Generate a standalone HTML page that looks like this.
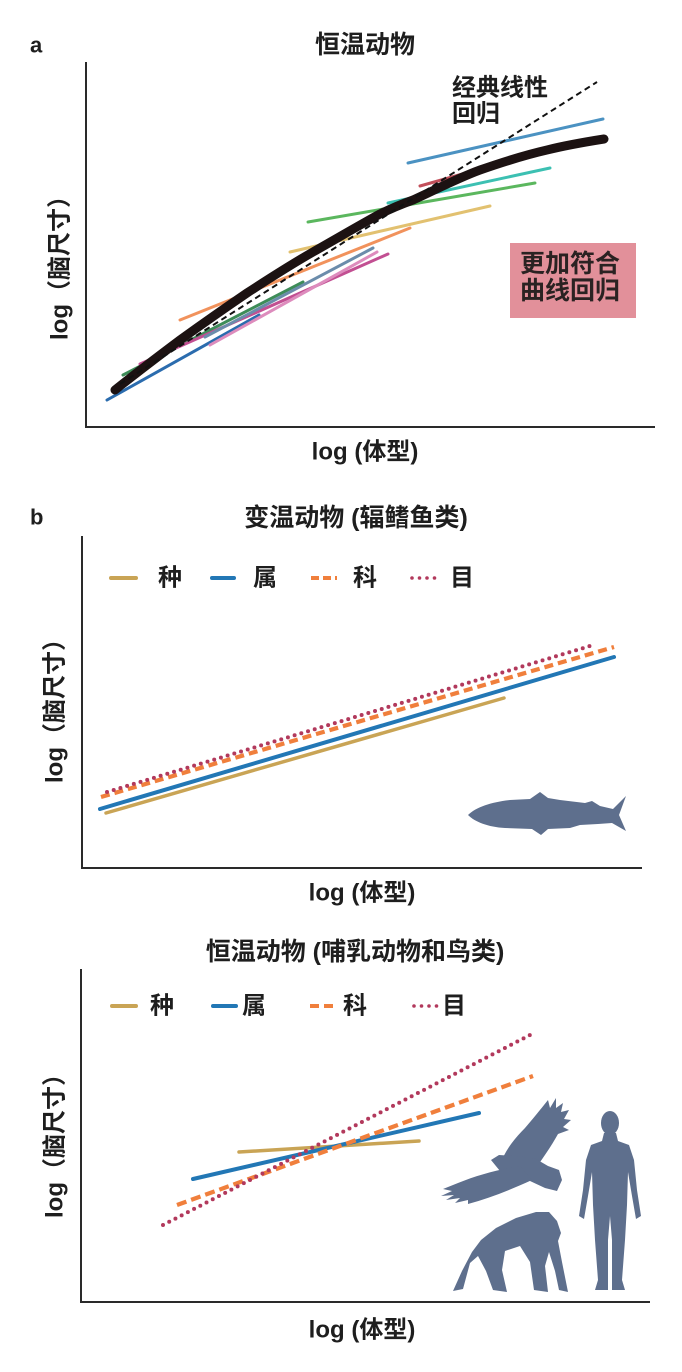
<!DOCTYPE html>
<html>
<head>
<meta charset="utf-8">
<style>
html,body{margin:0;padding:0;background:#fff;}
svg{display:block;}
text{font-family:"Liberation Sans","Noto Sans CJK SC",sans-serif;font-weight:bold;fill:#1e1e1e;}
</style>
</head>
<body>
<svg width="682" height="1372" viewBox="0 0 682 1372" xmlns="http://www.w3.org/2000/svg">
<rect width="682" height="1372" fill="#fff"/>

<!-- ============ PANEL A ============ -->
<text x="30" y="45" font-size="22" dominant-baseline="central">a</text>
<text x="365" y="45" font-size="25" text-anchor="middle" dominant-baseline="central">恒温动物</text>
<path d="M86,62 L86,427 L655,427" fill="none" stroke="#2a2a2a" stroke-width="2"/>
<g stroke-linecap="round" stroke-width="3" fill="none">
<line x1="107" y1="400" x2="259" y2="315" stroke="#2b6cae"/>
<line x1="123" y1="375" x2="303" y2="282" stroke="#3d8c58"/>
<line x1="140" y1="364" x2="388" y2="254" stroke="#c24f92"/>
<line x1="210" y1="345" x2="377" y2="252" stroke="#dd8cbd"/>
<line x1="205" y1="337" x2="373" y2="248" stroke="#6b8cab"/>
<line x1="180" y1="320" x2="410" y2="228" stroke="#f1925c"/>
<line x1="290" y1="252" x2="490" y2="206" stroke="#e2c170"/>
<line x1="308" y1="222" x2="535" y2="183" stroke="#5bb75e"/>
<line x1="388" y1="203" x2="550" y2="168" stroke="#3cc0b2"/>
<line x1="420" y1="186" x2="505" y2="162" stroke="#c24f5a"/>
<line x1="408" y1="163" x2="603" y2="119" stroke="#4b92c2"/>
</g>
<path d="M115,390 C140,370 160,355 180,340 C205,322 225,308 247,293 C270,278 292,264 313,252 C336,239 358,226 380,214 C392,208 402,204 413,200 C435,190 458,178 480,170 C503,162 525,155 547,150 C567,145 585,142 604,139" fill="none" stroke="#1c1212" stroke-width="9" stroke-linecap="round"/>
<line x1="120" y1="384" x2="597" y2="82" stroke="#111" stroke-width="2" stroke-dasharray="6 4"/>
<text x="452" y="88" font-size="24" dominant-baseline="central">经典线性</text>
<text x="452" y="114" font-size="24" dominant-baseline="central">回归</text>
<rect x="510" y="243" width="126" height="75" fill="#e2909a"/>
<text x="520" y="264" font-size="25" dominant-baseline="central" style="fill:#2a2222">更加符合</text>
<text x="520" y="291" font-size="25" dominant-baseline="central" style="fill:#2a2222">曲线回归</text>
<text x="365" y="452" font-size="24" text-anchor="middle" dominant-baseline="central">log (体型)</text>
<text transform="translate(60,262) rotate(-90)" font-size="24" text-anchor="middle" dominant-baseline="central">log（脑尺寸）</text>

<!-- ============ PANEL B ============ -->
<text x="30" y="517" font-size="22" dominant-baseline="central">b</text>
<text x="356" y="518" font-size="25" text-anchor="middle" dominant-baseline="central">变温动物 (辐鳍鱼类)</text>
<path d="M82,536 L82,868 L642,868" fill="none" stroke="#2a2a2a" stroke-width="2"/>
<g stroke-width="4" stroke-linecap="round">
<line x1="111" y1="578" x2="136" y2="578" stroke="#c9a455"/>
<line x1="212" y1="578" x2="234" y2="578" stroke="#2277b5"/>
<line x1="311" y1="578" x2="337" y2="578" stroke="#f07f3c" stroke-dasharray="8 4" stroke-linecap="butt"/>
<line x1="412" y1="578" x2="437" y2="578" stroke="#b2395c" stroke-width="3.6" stroke-dasharray="0 7.5"/>
</g>
<text x="158" y="578" font-size="24" dominant-baseline="central">种</text>
<text x="253" y="578" font-size="24" dominant-baseline="central">属</text>
<text x="353" y="578" font-size="24" dominant-baseline="central">科</text>
<text x="450" y="578" font-size="24" dominant-baseline="central">目</text>
<line x1="106" y1="813" x2="504" y2="698" stroke="#c9a455" stroke-width="3.5" stroke-linecap="round"/>
<line x1="100" y1="809" x2="614" y2="657" stroke="#2277b5" stroke-width="4" stroke-linecap="round"/>
<line x1="101" y1="797" x2="614" y2="647" stroke="#f07f3c" stroke-width="4.2" stroke-dasharray="9 5"/>
<line x1="107" y1="792" x2="590" y2="646" stroke="#b2395c" stroke-width="4" stroke-linecap="round" stroke-dasharray="0 7"/>
<path d="M468,815 C476,807 492,802 510,800 L530,799 L540,792 L548,798 L560,800 L585,803 L592,801 L600,806 L613,809 L626,796 L619,815 L626,831 L612,823 L598,824 L580,825 L570,828 L548,829 L541,835 L532,829 L505,828 C488,827 475,822 468,815 Z" fill="#5e6f8d"/>
<text x="362" y="893" font-size="24" text-anchor="middle" dominant-baseline="central">log (体型)</text>
<text transform="translate(55,705) rotate(-90)" font-size="24" text-anchor="middle" dominant-baseline="central">log（脑尺寸）</text>

<!-- ============ PANEL C ============ -->
<text x="355" y="952" font-size="25" text-anchor="middle" dominant-baseline="central">恒温动物 (哺乳动物和鸟类)</text>
<path d="M81,969 L81,1302 L650,1302" fill="none" stroke="#2a2a2a" stroke-width="2"/>
<g stroke-width="4" stroke-linecap="round">
<line x1="112" y1="1006" x2="136" y2="1006" stroke="#c9a455"/>
<line x1="213" y1="1006" x2="236" y2="1006" stroke="#2277b5"/>
<line x1="310" y1="1006" x2="338" y2="1006" stroke="#f07f3c" stroke-dasharray="9 5" stroke-linecap="butt"/>
<line x1="414" y1="1006" x2="439" y2="1006" stroke="#b2395c" stroke-width="3.6" stroke-dasharray="0 7.5"/>
</g>
<text x="150" y="1006" font-size="24" dominant-baseline="central">种</text>
<text x="242" y="1006" font-size="24" dominant-baseline="central">属</text>
<text x="343" y="1006" font-size="24" dominant-baseline="central">科</text>
<text x="442" y="1006" font-size="24" dominant-baseline="central">目</text>
<line x1="239" y1="1152" x2="419" y2="1141" stroke="#c9a455" stroke-width="3.5" stroke-linecap="round"/>
<line x1="193" y1="1179" x2="479" y2="1113" stroke="#2277b5" stroke-width="4" stroke-linecap="round"/>
<line x1="177" y1="1205" x2="533" y2="1076" stroke="#f07f3c" stroke-width="4.2" stroke-dasharray="10 5"/>
<line x1="163" y1="1225" x2="530" y2="1035" stroke="#b2395c" stroke-width="4" stroke-linecap="round" stroke-dasharray="0 7"/>
<!-- eagle -->
<g fill="#5e6f8d">
<path d="M500,1165 C505,1150 515,1138 525,1128 C532,1120 540,1110 548,1100 L550,1108 L556,1098 L556,1108 L563,1103 L561,1112 L569,1110 L564,1119 L571,1120 L563,1127 L569,1130 L558,1134 C552,1145 545,1155 538,1165 Z"/>
<path d="M491,1160 L499,1155 L516,1156 L536,1159 L548,1166 L559,1170 L562,1180 L557,1191 L545,1188 L530,1181 L515,1178 L500,1171 Z"/>
<path d="M520,1166 C500,1169 478,1175 458,1183 L443,1189 L452,1191 L441,1196 L454,1195 L446,1200 L460,1198 L455,1203 L468,1200 L468,1204 C490,1198 510,1190 532,1180 Z"/>
</g>
<!-- chimp -->
<path fill="#5e6f8d" d="M453,1291 L463,1289 L470,1263 L478,1256 L486,1271 L493,1290 L507,1292 L502,1270 L505,1251 L520,1246 L530,1262 L534,1290 L548,1292 L545,1266 L549,1252 L555,1271 L559,1290 L568,1292 L562,1262 L558,1241 L561,1233 L557,1221 L549,1212 L536,1212 L516,1218 L496,1228 L481,1240 L472,1252 L462,1271 Z"/>
<!-- human -->
<g fill="#5e6f8d">
<ellipse cx="610" cy="1123" rx="9" ry="12"/>
<path d="M604,1133 L616,1133 L618,1141 L629,1145 L634,1160 L637,1190 L641,1216 L636,1219 L632,1196 L628,1172 L627,1205 L625,1240 L622,1280 L625,1290 L612,1290 L612,1240 L610,1216 L608,1240 L608,1290 L595,1290 L598,1280 L595,1240 L593,1205 L592,1172 L588,1196 L584,1219 L579,1216 L583,1190 L586,1160 L591,1145 L602,1141 Z"/>
</g>
<text x="362" y="1330" font-size="24" text-anchor="middle" dominant-baseline="central">log (体型)</text>
<text transform="translate(55,1140) rotate(-90)" font-size="24" text-anchor="middle" dominant-baseline="central">log（脑尺寸）</text>
</svg>
</body>
</html>
